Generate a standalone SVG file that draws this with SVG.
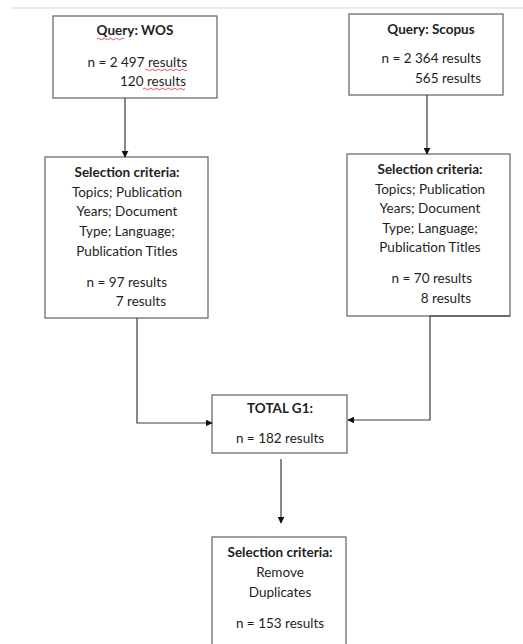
<svg xmlns="http://www.w3.org/2000/svg" width="523" height="644" viewBox="0 0 523 644">
<defs>
<style>
.box{fill:#fff;stroke:#606060;stroke-width:1.2}
.t{font-family:Lato,"Open Sans","Liberation Sans",sans-serif;font-size:13.5px;fill:#1e1e1e}
.b{font-weight:bold}
.c{text-anchor:middle}
.e{text-anchor:end}
.conn{fill:none;stroke:#3a3a3a;stroke-width:1.2}
.sq{fill:none;stroke:#e04040;stroke-width:0.9}
</style>
<marker id="arr" viewBox="0 0 10 10" refX="9" refY="5" markerWidth="7" markerHeight="7" markerUnits="userSpaceOnUse" orient="auto">
<path d="M0,0 L10,5 L0,10 z" fill="#111"/>
</marker>
</defs>
<rect width="523" height="644" fill="#fff"/>
<line x1="10" y1="8" x2="523" y2="8" stroke="#ececec" stroke-width="2"/>

<g id="wos">
<rect class="box" x="53" y="16" width="164" height="82"/>
<text class="t b c" x="135" y="35">Query: WOS</text>
<text class="t e" x="187" y="67">n = 2 497 results</text>
<text class="t e" x="186" y="86">120 results</text>
<path class="sq" d="M97,39 q1.5,-1.5 3,0 t3,0 t3,0 t3,0 t3,0 t3,0 t3,0 t3,0 t3,0"/>
<path class="sq" d="M145,70 q1.5,-1.5 3,0 t3,0 t3,0 t3,0 t3,0 t3,0 t3,0 t3,0 t3,0 t3,0 t3,0 t3,0 t3,0 t3,0"/>
<path class="sq" d="M143,89 q1.5,-1.5 3,0 t3,0 t3,0 t3,0 t3,0 t3,0 t3,0 t3,0 t3,0 t3,0 t3,0 t3,0 t3,0 t3,0"/>
</g>

<g id="scopus">
<rect class="box" x="349" y="14" width="154" height="81"/>
<text class="t b c" x="431" y="34">Query: Scopus</text>
<text class="t e" x="481" y="63">n = 2 364 results</text>
<text class="t e" x="481" y="83">565 results</text>
</g>

<g id="sel-wos">
<rect class="box" x="45" y="157" width="163" height="161"/>
<text class="t b c" x="127" y="177">Selection criteria:</text>
<text class="t c" x="127" y="197">Topics; Publication</text>
<text class="t c" x="127" y="216">Years; Document</text>
<text class="t c" x="127" y="236">Type; Language;</text>
<text class="t c" x="127" y="256">Publication Titles</text>
<text class="t e" x="167" y="287">n = 97 results</text>
<text class="t e" x="166" y="306">7 results</text>
</g>

<g id="sel-scopus">
<rect class="box" x="347" y="154" width="163" height="162"/>
<text class="t b c" x="430" y="174">Selection criteria:</text>
<text class="t c" x="430" y="193.5">Topics; Publication</text>
<text class="t c" x="430" y="213">Years; Document</text>
<text class="t c" x="430" y="232.5">Type; Language;</text>
<text class="t c" x="430" y="252">Publication Titles</text>
<text class="t e" x="472" y="283">n = 70 results</text>
<text class="t e" x="471" y="303">8 results</text>
</g>

<g id="total">
<rect class="box" x="212" y="395" width="135" height="58"/>
<text class="t b c" x="280" y="413">TOTAL G1:</text>
<text class="t c" x="280" y="443">n = 182 results</text>
</g>

<g id="dedup">
<rect class="box" x="212" y="537" width="134" height="112"/>
<text class="t b c" x="280" y="557">Selection criteria:</text>
<text class="t c" x="280" y="577">Remove</text>
<text class="t c" x="280" y="597">Duplicates</text>
<text class="t c" x="280" y="628">n = 153 results</text>
</g>

<g id="connectors">
<path class="conn" d="M125,98 V157" marker-end="url(#arr)"/>
<path class="conn" d="M427,95 V154" marker-end="url(#arr)"/>
<path class="conn" d="M137,318 V423 H212" marker-end="url(#arr)"/>
<path class="conn" d="M510,316 H430 V420 H348" marker-end="url(#arr)"/>
<path class="conn" d="M281,459 V523" marker-end="url(#arr)"/>
</g>
</svg>
